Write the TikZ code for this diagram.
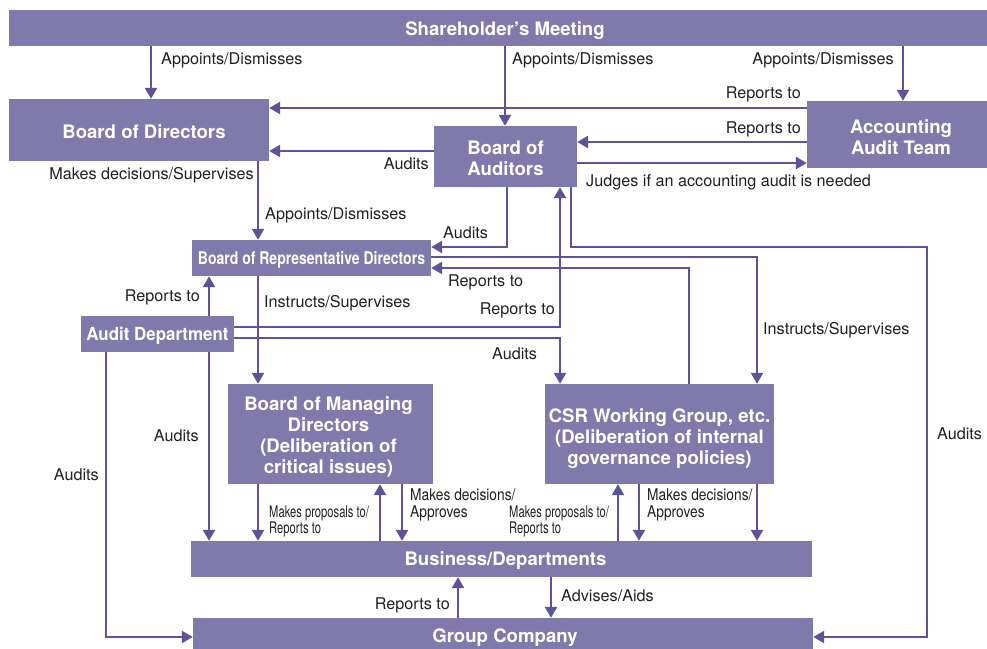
\documentclass[tikz,border=0pt]{standalone}
\usepackage{fontspec}
\setmainfont{TeX Gyre Heros}
\newfontfamily\cndA[FakeStretch=0.70]{TeX Gyre Heros}
\newfontfamily\cndB[FakeStretch=0.85]{TeX Gyre Heros}
\newfontfamily\cndC[FakeStretch=0.80]{TeX Gyre Heros}
\newfontfamily\cndD[FakeStretch=0.94]{TeX Gyre Heros}
\usetikzlibrary{arrows.meta}
\definecolor{boxc}{RGB}{128,121,171}
\definecolor{linec}{RGB}{91,84,153}
\definecolor{labc}{RGB}{35,31,32}
\begin{document}
\begin{tikzpicture}[x=1pt,y=-1pt,
  box/.style={fill=boxc, inner sep=0pt},
  txt/.style={text=white, inner sep=0pt, align=center,
    font=\fontsize{18.6}{21}\selectfont\bfseries},
  lab/.style={inner sep=0pt, yshift=-1.8pt, text=labc, font=\fontsize{16.2}{19}\selectfont},
  labA/.style={inner sep=0pt, yshift=-1.5pt, text=labc, align=left, font=\cndA\fontsize{16}{16.5}\selectfont},
  labB/.style={inner sep=0pt, yshift=-1.5pt, text=labc, align=left, font=\cndB\fontsize{16.2}{17}\selectfont},
  arr/.style={draw=linec, line width=2.5pt, -{Triangle[width=12pt,length=11pt]}}]
\useasboundingbox (0,0) rectangle (987,648);

% boxes
\node[box, minimum width=978pt, minimum height=36pt] (sm) at (498,28) {};
\node[box, minimum width=260pt, minimum height=62pt] (bod) at (139,130) {};
\node[box, minimum width=143pt, minimum height=61pt] (boa) at (505.5,156.5) {};
\node[box, minimum width=180pt, minimum height=67pt] (aat) at (897,134.5) {};
\node[box, minimum width=239pt, minimum height=36pt] (bord) at (311.5,258) {};
\node[box, minimum width=153pt, minimum height=36pt] (ad) at (157.5,334) {};
\node[box, minimum width=205pt, minimum height=100pt] (bomd) at (330.5,434) {};
\node[box, minimum width=229pt, minimum height=100pt] (csr) at (659.5,434) {};
\node[box, minimum width=621pt, minimum height=36pt] (bus) at (501.5,559) {};
\node[box, minimum width=620pt, minimum height=32pt] (gc) at (503,634) {};

% box texts
\node[txt] (smT) at ([xshift=7pt,yshift=-2.5pt]sm.center) {Shareholder’s Meeting};
\node[txt] (bodT) at ([xshift=5pt,yshift=-1.5pt]bod.center) {Board of Directors};
\node[txt] (boaT) at ([yshift=-2pt]boa.center) {Board of\\Auditors};
\node[txt] (aatT) at ([xshift=4pt,yshift=-2.5pt]aat.center) {Accounting\\Audit Team};
\node[txt, font=\cndC\fontsize{17.5}{20}\selectfont\bfseries] (bordT) at ([yshift=-2pt]bord.center) {Board of Representative Directors};
\node[txt, font=\cndD\fontsize{18}{20}\selectfont\bfseries] (adT) at ([yshift=-2pt]ad.center) {Audit Department};
\node[txt] (bomdT) at ([xshift=-2pt,yshift=-2.5pt]bomd.center) {Board of Managing\\Directors\\(Deliberation of\\critical issues)};
\node[txt] (csrT) at ([yshift=-4.5pt]csr.center) {CSR Working Group, etc.\\(Deliberation of internal\\governance policies)};
\node[txt] (busT) at ([xshift=4pt,yshift=-2pt]bus.center) {Business/Departments};
\node[txt] (gcT) at ([xshift=2pt,yshift=-4pt]gc.center) {Group Company};

% guide coordinates
\coordinate (cA) at (151,0);
\coordinate (cB) at (505,0);
\coordinate (cC) at (903,0);
\coordinate (cD) at (258,0);
\coordinate (cE) at (507,0);
\coordinate (cF) at (571,0);
\coordinate (cG) at (560,0);
\coordinate (cH) at (757,0);
\coordinate (cI) at (689,0);
\coordinate (cJ) at (927,0);
\coordinate (cK) at (209,0);
\coordinate (cL) at (106,0);
\coordinate (cM) at (380,0);
\coordinate (cN) at (402,0);
\coordinate (cO) at (618,0);
\coordinate (cP) at (639,0);
\coordinate (cQ) at (551,0);
\coordinate (cR) at (458,0);
\coordinate (y108) at (0,108);
\coordinate (y142) at (0,142);
\coordinate (y151) at (0,151);
\coordinate (y163) at (0,163);
\coordinate (y247) at (0,247);
\coordinate (y257) at (0,257);
\coordinate (y268) at (0,268);
\coordinate (y327) at (0,327);
\coordinate (y338) at (0,338);
\coordinate (y637) at (0,637);

% connectors
\draw[arr] (sm.south -| cA) -- (bod.north -| cA);
\draw[arr] (sm.south -| cB) -- (boa.north -| cB);
\draw[arr] (sm.south -| cC) -- (aat.north -| cC);
\draw[arr] (aat.west |- y108) -- (bod.east |- y108);
\draw[arr] (aat.west |- y142) -- (boa.east |- y142);
\draw[arr] (boa.west |- y151) -- (bod.east |- y151);
\draw[arr] (boa.east |- y163) -- (aat.west |- y163);
\draw[arr] (bod.south -| cD) -- (bord.north -| cD);
\draw[arr] (boa.south -| cE) |- (bord.east |- y247);
\draw[arr] (boa.south -| cF) |- (cJ |- y247) |- (gc.east |- y637);
\draw[arr] (bord.east |- y257) -| (csr.north -| cH);
\draw[arr] (csr.north -| cI) |- (bord.east |- y268);
\draw[arr] (ad.east |- y327) -| (boa.south -| cG);
\draw[arr] (ad.east |- y338) -| (csr.north -| cG);
\draw[arr] (ad.north -| cK) -- (bord.south -| cK);
\draw[arr] (ad.south -| cK) -- (bus.north -| cK);
\draw[arr] (ad.south -| cL) |- (gc.west |- y637);
\draw[arr] (bord.south -| cD) -- (bomd.north -| cD);
\draw[arr] (bomd.south -| cD) -- (bus.north -| cD);
\draw[arr] (bus.north -| cM) -- (bomd.south -| cM);
\draw[arr] (bomd.south -| cN) -- (bus.north -| cN);
\draw[arr] (bus.north -| cO) -- (csr.south -| cO);
\draw[arr] (csr.south -| cP) -- (bus.north -| cP);
\draw[arr] (csr.south -| cH) -- (bus.north -| cH);
\draw[arr] (bus.south -| cQ) -- (gc.north -| cQ);
\draw[arr] (gc.north -| cR) -- (bus.south -| cR);

% labels
\node[lab, anchor=west] (l1) at (161,59) {Appoints/Dismisses};
\node[lab, anchor=west] (l2) at (512,59) {Appoints/Dismisses};
\node[lab, anchor=east] (l3) at (894,59) {Appoints/Dismisses};
\node[lab, anchor=east] (l4) at (801,93) {Reports to};
\node[lab, anchor=east] (l5) at (801,128) {Reports to};
\node[lab, anchor=east] (l6) at (429,162) {Audits};
\node[lab, anchor=west] (l7) at (586,181) {Judges if an accounting audit is needed};
\node[lab, anchor=east] (l8) at (254,173) {Makes decisions/Supervises};
\node[lab, anchor=west] (l9) at (265,214) {Appoints/Dismisses};
\node[lab, anchor=west] (l10) at (443,231) {Audits};
\node[lab, anchor=west] (l11) at (448,281) {Reports to};
\node[lab, anchor=east] (l12) at (555,309) {Reports to};
\node[lab, anchor=west] (l13) at (492,352) {Audits};
\node[lab, anchor=west] (l14) at (763,328) {Instructs/Supervises};
\node[lab, anchor=east] (l15) at (200,296) {Reports to};
\node[lab, anchor=west] (l16) at (264,301) {Instructs/Supervises};
\node[lab, anchor=east] (l17) at (199,434) {Audits};
\node[lab, anchor=east] (l18) at (99,473) {Audits};
\node[lab, anchor=west] (l19) at (937,432) {Audits};
\node[labA, anchor=west] (l20) at (269,520) {Makes proposals to/\\Reports to};
\node[labB, anchor=west] (l21) at (410,503.5) {Makes decisions/\\Approves};
\node[labA, anchor=west] (l22) at (509,520) {Makes proposals to/\\Reports to};
\node[labB, anchor=west] (l23) at (647,503.5) {Makes decisions/\\Approves};
\node[lab, anchor=west] (l24) at (561,594) {Advises/Aids};
\node[lab, anchor=east] (l25) at (450,604) {Reports to};
\end{tikzpicture}
\end{document}
